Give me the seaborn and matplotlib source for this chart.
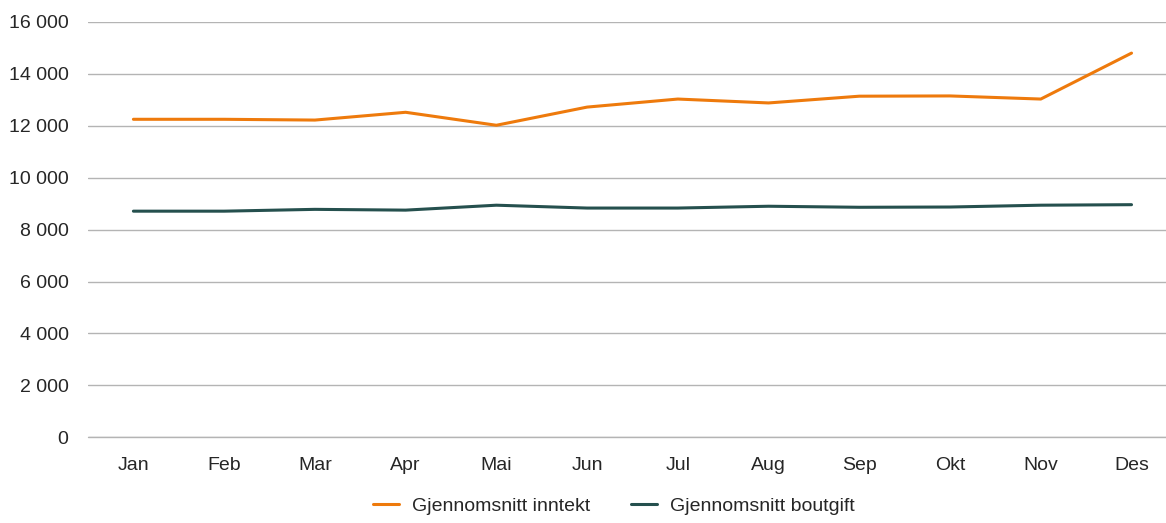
import matplotlib.pyplot as plt
import matplotlib.ticker as mticker
import pandas as pd
import seaborn as sns

months = ['Jan', 'Feb', 'Mar', 'Apr', 'Mai', 'Jun', 'Jul', 'Aug', 'Sep', 'Okt', 'Nov', 'Des']
inntekt = [12250, 12250, 12220, 12520, 12020, 12720, 13030, 12880, 13140, 13150, 13030, 14800]
boutgift = [8710, 8710, 8780, 8750, 8940, 8830, 8830, 8900, 8860, 8870, 8940, 8960]
series = ['Gjennomsnitt inntekt', 'Gjennomsnitt boutgift']
colors = ['#EE7A0C', '#25504E']

df = pd.DataFrame({
    'mnd': months * 2,
    'verdi': inntekt + boutgift,
    'serie': [series[0]] * 12 + [series[1]] * 12,
})

sns.set_style('white')
plt.rcParams['font.family'] = ['Liberation Sans', 'DejaVu Sans']

fig = plt.figure(figsize=(11.66, 5.23), dpi=100)
ax = fig.add_axes([0.0755, 0.164, 0.9245, 0.794])

sns.lineplot(data=df, x='mnd', y='verdi', hue='serie', palette=colors,
             linewidth=2.2, sort=False, ax=ax)

ax.set_ylim(0, 16000)
ax.set_xlim(-0.5, 11.38)
ax.yaxis.set_major_locator(mticker.MultipleLocator(2000))
ax.yaxis.set_major_formatter(mticker.FuncFormatter(lambda v, p: f'{int(v):,}'.replace(',', ' ')))
ax.grid(axis='y', color='#B4B4B4', linewidth=1)
ax.axhline(0, color='#B4B4B4', linewidth=1, zorder=0.5, clip_on=False)
ax.set_axisbelow(True)
for s in ax.spines.values():
    s.set_visible(False)
ax.tick_params(axis='both', length=0, labelsize=14, pad=14)
ax.tick_params(axis='y', pad=14)
ax.set_xlabel('')
ax.set_ylabel('')

ax.legend(loc='upper center', bbox_to_anchor=(0.488, -0.112), ncol=2, frameon=False,
          fontsize=14, handlelength=1.3, handletextpad=0.7, columnspacing=2.1,
          borderpad=0.2)

fig.savefig('out.png', dpi=100)
